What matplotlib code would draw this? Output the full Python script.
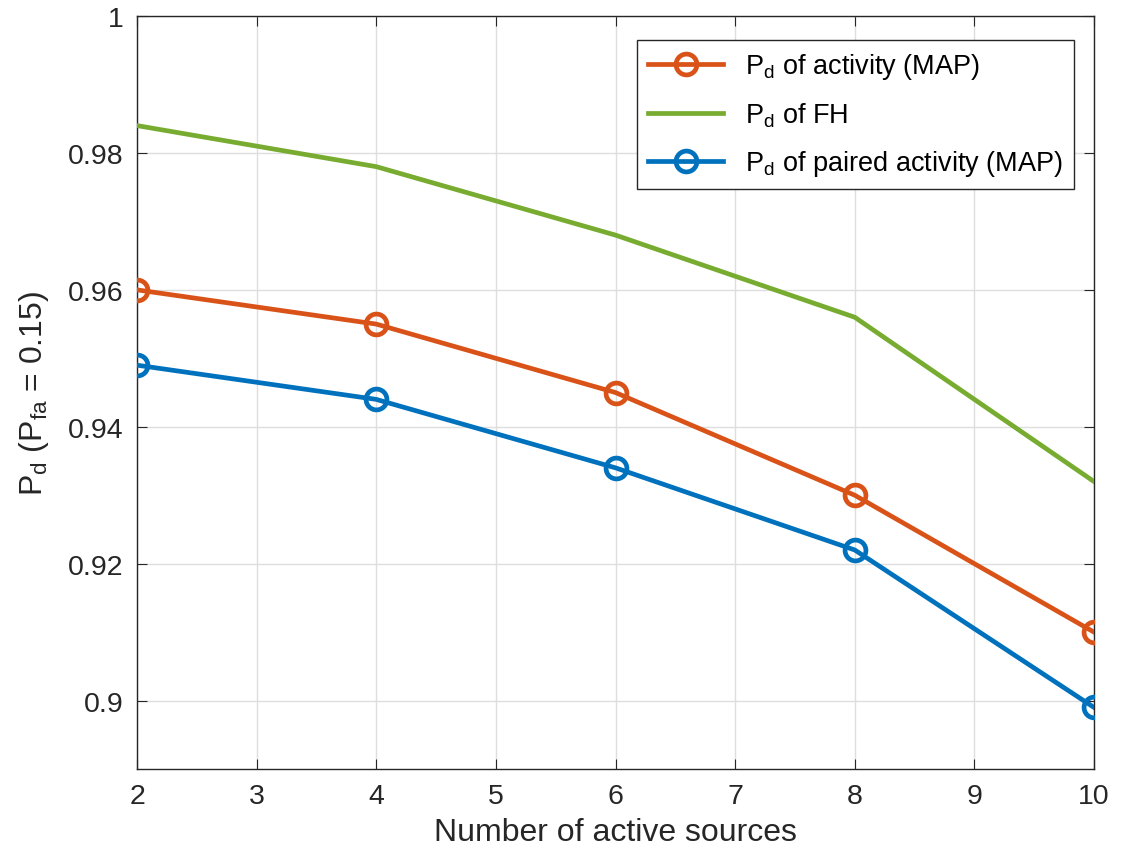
import matplotlib
matplotlib.use('Agg')
import matplotlib.pyplot as plt
from matplotlib.ticker import FuncFormatter

plt.rcParams['font.family'] = ['Liberation Sans', 'DejaVu Sans']
plt.rcParams['mathtext.fontset'] = 'custom'
plt.rcParams['mathtext.rm'] = 'Liberation Sans'
plt.rcParams['mathtext.it'] = 'Liberation Sans'

sources = [2, 4, 6, 8, 10]
pd_activity = [0.960, 0.955, 0.945, 0.930, 0.910]
pd_fh = [0.984, 0.978, 0.968, 0.956, 0.932]
pd_paired = [0.949, 0.944, 0.934, 0.922, 0.899]

fig = plt.figure(figsize=(11.24, 8.62), dpi=100)
ax = fig.add_axes([0.1219, 0.1067, 0.8514, 0.8735])

ax.plot(sources, pd_activity, color='#D95319', lw=3.4, marker='o', ms=15,
        mfc='none', mew=3.4, label=r'P$_\mathregular{d}$ of activity (MAP)', zorder=3)
ax.plot(sources, pd_fh, color='#77AC30', lw=3.4, label=r'P$_\mathregular{d}$ of FH', zorder=3)
ax.plot(sources, pd_paired, color='#0072BD', lw=3.4, marker='o', ms=15,
        mfc='none', mew=3.4, label=r'P$_\mathregular{d}$ of paired activity (MAP)', zorder=3)

ax.set_xlim(2, 10)
ax.set_ylim(0.89, 1.0)
ax.set_xticks(range(2, 11))
ax.set_yticks([0.9, 0.92, 0.94, 0.96, 0.98, 1.0])
ax.yaxis.set_major_formatter(FuncFormatter(lambda v, p: '%g' % round(v, 3)))
ax.grid(True, color='#dedede', lw=1)
ax.set_axisbelow(True)
ax.tick_params(direction='in', length=7, labelsize=20.5, colors='#262626',
               top=True, right=True, pad=10)
for s in ax.spines.values():
    s.set_color('#262626')
    s.set_linewidth(1)

ax.set_xlabel('Number of active sources', fontsize=23, color='#262626', labelpad=6)
ax.set_ylabel(r'P$_\mathregular{d}$ (P$_\mathregular{fa}$ = 0.15)', fontsize=23,
              color='#262626', labelpad=12)

leg = ax.legend(loc='upper right', fontsize=19.5, fancybox=False, framealpha=1,
                edgecolor='#262626', handlelength=2.8, borderaxespad=0.0,
                labelspacing=0.72, bbox_to_anchor=(0.979, 0.968))
leg.get_frame().set_linewidth(1)

fig.savefig('out.png', dpi=100)
